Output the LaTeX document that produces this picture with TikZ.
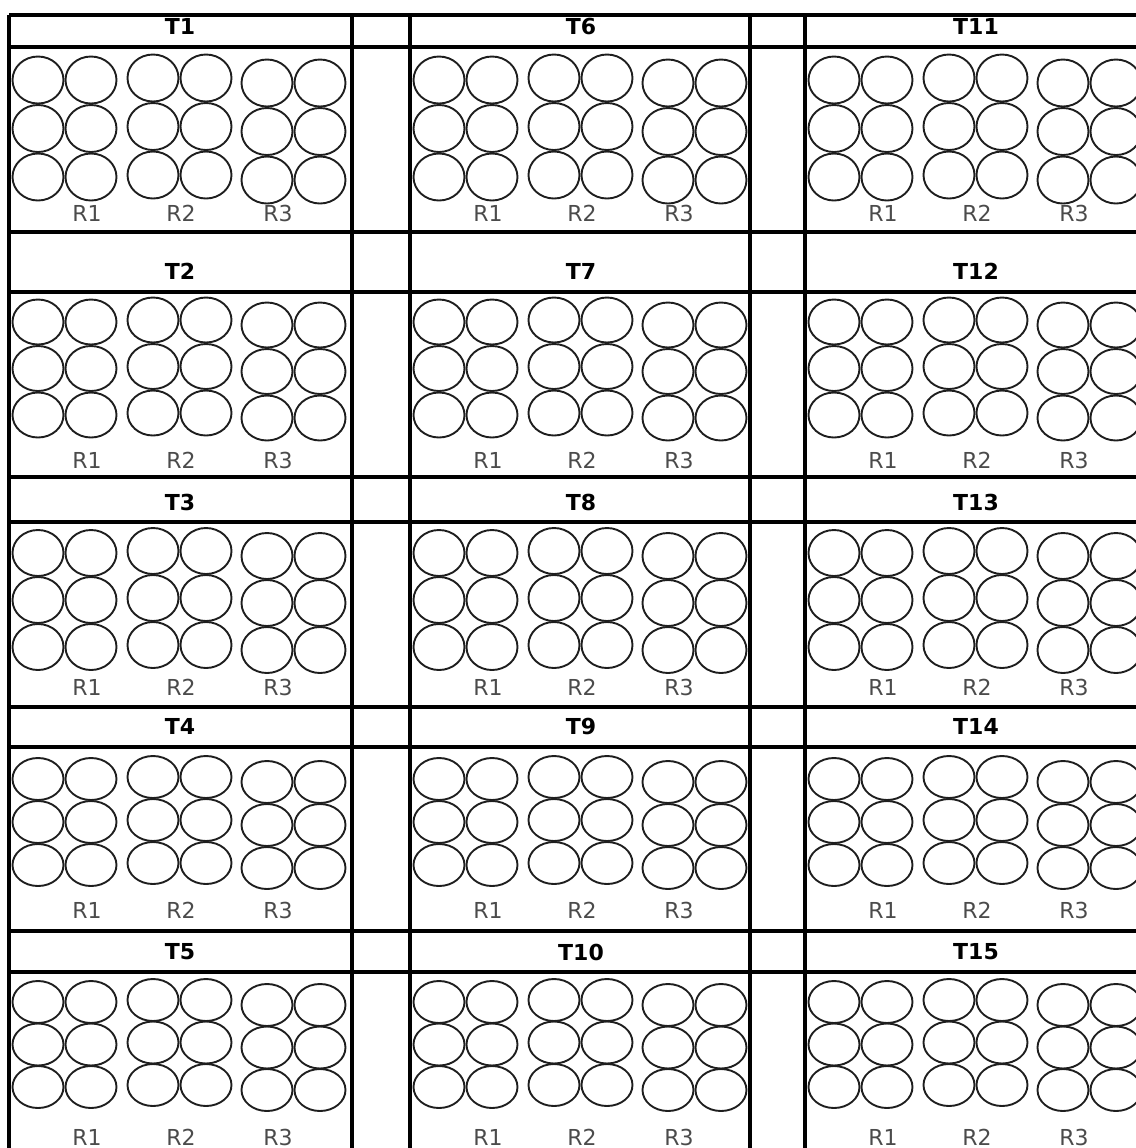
\documentclass[tikz,border=0pt]{standalone}
\usepackage{fontspec}
\setmainfont{DejaVu Sans}
\usepackage{xcolor}
\definecolor{gridblack}{RGB}{0,0,0}
\definecolor{wellgray}{RGB}{30,30,30}
\definecolor{labelgray}{RGB}{75,75,75}
\usepackage{tikz}

\tikzset{
  gridline/.style={draw=gridblack, line width=1.6pt},
  well/.style={draw=wellgray, line width=0.95pt},
  tlabel/.style={font=\fontsize{11}{13}\selectfont\bfseries, text=gridblack, inner sep=0pt},
  rlabel/.style={font=\fontsize{11}{13}\selectfont, text=labelgray, inner sep=0pt}
}

\begin{document}
\begin{tikzpicture}[x=0.5pt, y=-0.5pt]
  \useasboundingbox (0,0) rectangle (1136,1148);
  \clip (0,0) rectangle (1136,1148);

  % Table rules
  \foreach \y in {15, 47, 232, 292, 477, 522, 707, 747, 931, 972}
    \draw[gridline] (9,\y) -- (1160,\y);
  \foreach \x in {9, 352, 410, 750, 805}
    \draw[gridline] (\x,15) -- (\x,1160);

  % Cells T1..T15: header, three 2x3 groups of wells, R labels
  \foreach \r/\hy/\cy/\dy/\ry/\ly in {1/26/80/48.5/23.5/213, 2/271/322/46.5/22.5/460,
      3/502/553/47/23/687, 4/726/779/43/21/910, 5/952/1002/42.5/21/1137} {
    \foreach \c/\cx in {0/9, 1/410, 2/805} {
      \pgfmathtruncatemacro{\n}{\r+5*\c}
      \node[tlabel] (t\n) at (\cx+171,\hy) {T\n};
      \foreach \g/\gx/\gy/\lx in {1/29/0/78, 2/144/-2/172, 3/258/3/269} {
        \foreach \k in {0,1,2} {
          \draw[well] (\cx+\gx,\cy+\gy+\k*\dy) ellipse [x radius=25.5, y radius=\ry];
          \draw[well] (\cx+\gx+53,\cy+\gy+\k*\dy) ellipse [x radius=25.5, y radius=\ry];
        }
        \node[rlabel] (t\n-r\g) at (\cx+\lx,\ly) {R\g};
      }
    }
  }
\end{tikzpicture}
\end{document}
